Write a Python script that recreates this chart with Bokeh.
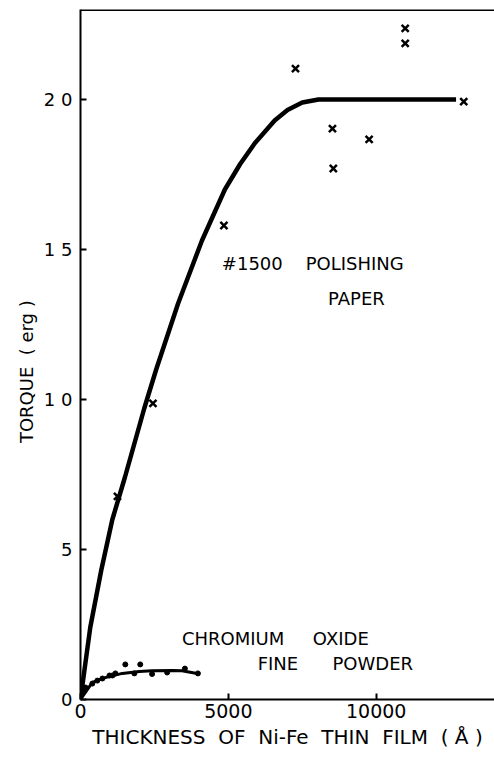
from bokeh.plotting import figure
from bokeh.models import Range1d, Label, Span, FixedTicker
from bokeh.embed import file_html
from bokeh.resources import INLINE

# Polishing paper (#1500): measured crosses and smooth curve
paper_x = [1250, 2450, 4850, 7270, 8520, 8550, 9760, 10980, 10980, 12960]
paper_y = [6.77, 9.87, 15.8, 21.03, 19.03, 17.7, 18.67, 22.37, 21.87, 19.93]
paper_curve_x = [0, 150, 330, 700, 1077, 1500, 2155, 2559, 3300, 4108, 4882, 5400, 5900, 6566, 7000, 7500, 8047, 12700]
paper_curve_y = [0, 1.1, 2.4, 4.3, 6.0, 7.4, 9.7, 11.0, 13.2, 15.3, 17.0, 17.85, 18.55, 19.3, 19.65, 19.9, 20.0, 20.0]

# Chromium oxide fine powder: dots and curve
oxide_x = [100, 170, 400, 570, 740, 980, 1080, 1180, 1515, 1820, 2020, 2420, 2930, 3530, 3970]
oxide_y = [0.3, 0.4, 0.53, 0.63, 0.7, 0.8, 0.8, 0.87, 1.17, 0.87, 1.17, 0.85, 0.9, 1.03, 0.87]
oxide_curve_x = [0, 400, 840, 1410, 1990, 2420, 3100, 3430, 3940, 4000]
oxide_curve_y = [0, 0.57, 0.73, 0.87, 0.93, 0.96, 0.97, 0.96, 0.87, 0.83]

x_ticks = [0, 5000, 10000]
y_ticks = [0, 5, 10, 15, 20]
y_tick_labels = {0: "0", 5: "5", 10: "1 0", 15: "1 5", 20: "2 0"}

FONT = "DejaVu Sans"
NB = "\u00a0"

p = figure(width=494, height=753, output_backend="svg", toolbar_location=None,
           x_range=Range1d(0, 14000), y_range=Range1d(0, 23),
           min_border_left=80, min_border_right=0, min_border_top=9,
           min_border_bottom=54)
p.outline_line_color = None
p.grid.visible = False
p.background_fill_color = "white"

for ax in (p.xaxis[0], p.yaxis[0]):
    ax.axis_line_width = 2
    ax.axis_line_color = "black"
    ax.major_tick_in = 6
    ax.major_tick_out = 0
    ax.major_tick_line_width = 2
    ax.minor_tick_line_color = None
    ax.major_label_text_font = FONT
    ax.axis_label_text_font = FONT
    ax.axis_label_text_font_style = "normal"
    ax.major_label_text_color = "black"
    ax.axis_label_text_color = "black"

p.xaxis.ticker = FixedTicker(ticks=x_ticks)
p.yaxis.ticker = FixedTicker(ticks=y_ticks)
p.yaxis.major_label_overrides = y_tick_labels
p.xaxis.major_label_text_font_size = "19px"
p.yaxis.major_label_text_font_size = "18px"
p.xaxis.major_label_standoff = 4
p.yaxis.major_label_standoff = 8
p.xaxis.axis_label = "THICKNESS" + NB * 2 + "OF" + NB * 2 + "Ni-Fe" + NB * 2 + "THIN" + NB * 2 + "FILM" + NB * 2 + "(" + NB + "Å" + NB + ")"
p.yaxis.axis_label = "TORQUE" + NB * 2 + "(" + NB + "erg" + NB + ")" + NB * 6
p.xaxis.axis_label_text_font_size = "20px"
p.yaxis.axis_label_text_font_size = "18px"
p.xaxis.axis_label_standoff = 4
p.yaxis.axis_label_standoff = 4

p.add_layout(Span(location=23, dimension="width", line_color="black", line_width=3))

p.line(paper_curve_x, paper_curve_y, line_color="black", line_width=4.5)
p.line(oxide_curve_x, oxide_curve_y, line_color="black", line_width=3)
p.scatter(paper_x, paper_y, marker="x", size=10, line_color="black", line_width=2.5)
p.scatter(oxide_x, oxide_y, marker="circle", size=5, fill_color="black", line_color="black")

label_kw = dict(text_font=FONT, text_font_size="18px", text_color="black", text_baseline="middle")
p.add_layout(Label(x=4780, y=14.53, text="#1500" + NB * 4 + "POLISHING", **label_kw))
p.add_layout(Label(x=9330, y=13.37, text="PAPER", text_align="center", **label_kw))
p.add_layout(Label(x=3430, y=2.03, text="CHROMIUM" + NB * 5 + "OXIDE", **label_kw))
p.add_layout(Label(x=5990, y=1.2, text="FINE" + NB * 6 + "POWDER", **label_kw))

open("out.html", "w").write(file_html(p, INLINE))
